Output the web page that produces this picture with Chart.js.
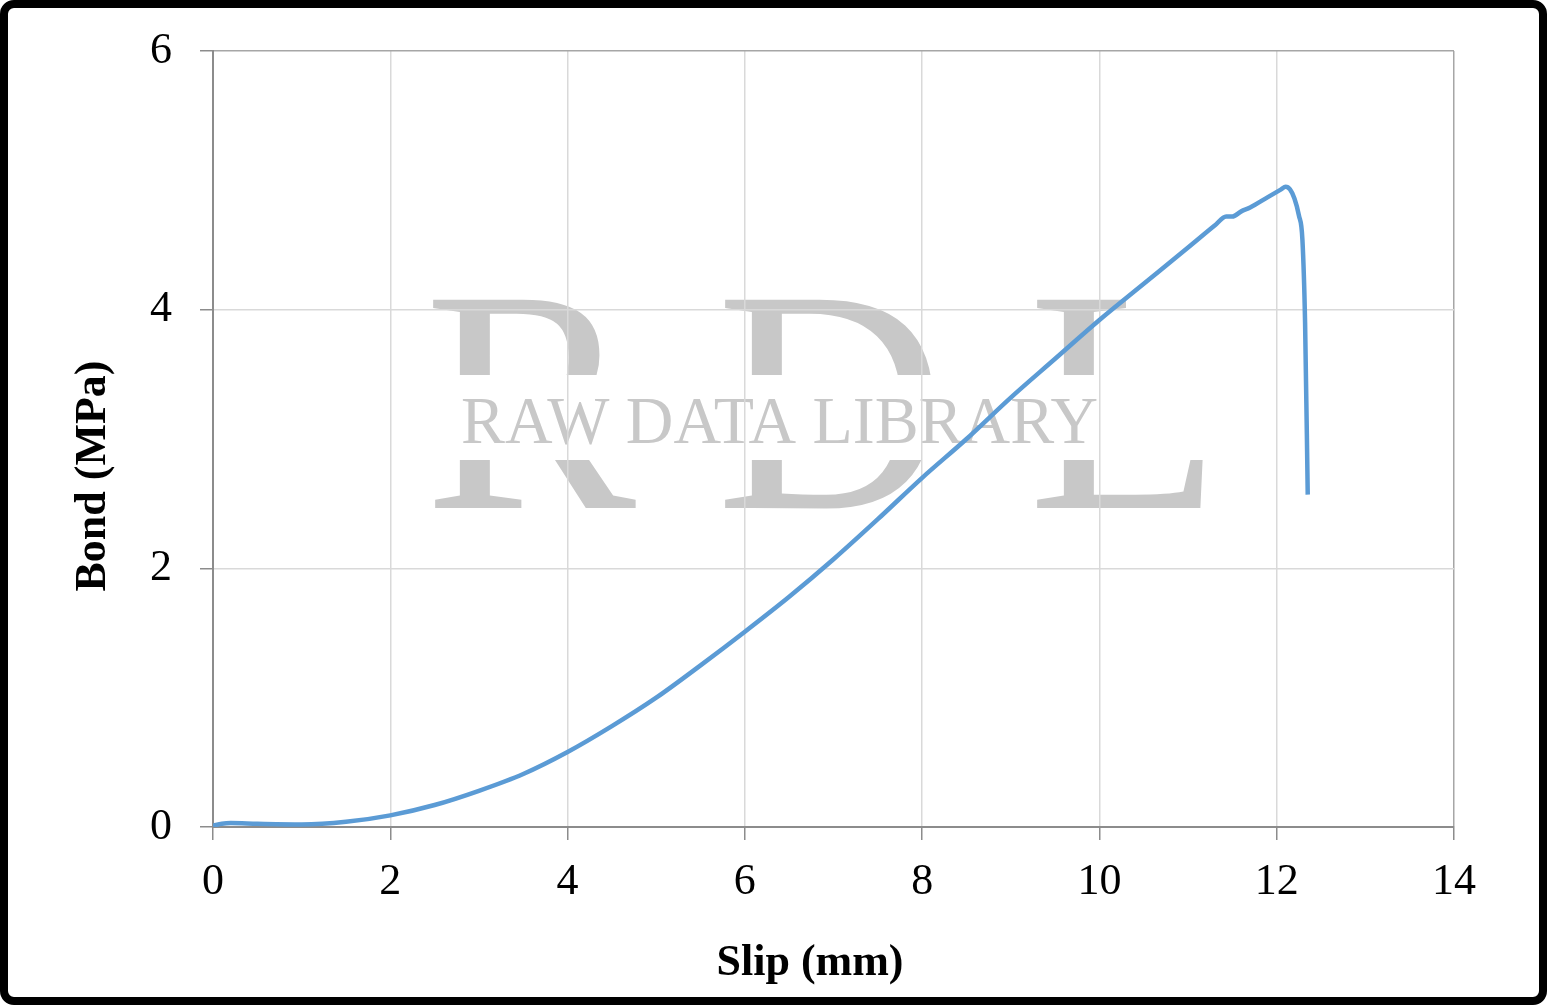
<!DOCTYPE html>
<html>

<head>
    <script src="https://cdnjs.cloudflare.com/ajax/libs/Chart.js/4.4.1/chart.umd.js"></script>
    <title>Bond vs Slip</title>
    <style>
        body { margin: 0; background: #fff; }
        #wrap {
            width: 1547px;
            height: 1005px;
            box-sizing: border-box;
            border: 8px solid #000;
            border-radius: 14px;
            background: #fff;
        }
        canvas { display: block; }
    </style>
    <script>
        const slip = [0, 0.1, 0.2, 0.5, 1.0, 1.5, 2.0, 2.5, 3.0, 3.5, 4.0, 4.5, 5.0, 5.5, 6.0, 6.5, 7.0, 7.5, 8.0, 8.5,
            9.0, 9.5, 10.0, 10.5, 11.0, 11.3, 11.43, 11.5, 11.6, 11.7, 11.9, 12.05, 12.1, 12.15, 12.2, 12.25, 12.29, 12.32, 12.35];
        const bond = [0.01, 0.025, 0.03, 0.025, 0.02, 0.04, 0.09, 0.17, 0.28, 0.41, 0.58, 0.78, 1.00, 1.25, 1.51, 1.78, 2.07, 2.38, 2.70, 3.00,
            3.32, 3.62, 3.92, 4.20, 4.48, 4.65, 4.72, 4.72, 4.76, 4.79, 4.87, 4.93, 4.95, 4.93, 4.86, 4.73, 4.54, 3.9, 2.57];
        const xTicks = [0, 2, 4, 6, 8, 10, 12, 14];
        const yTicks = [0, 2, 4, 6];
        const xTitle = 'Slip (mm)';
        const yTitle = 'Bond (MPa)';

        const serif = '"Liberation Serif", "Times New Roman", serif';

        // watermark sits under the grid
        const watermark = {
            id: 'watermark',
            beforeDraw(chart) {
                const c = chart.ctx;
                c.save();
                c.fillStyle = '#C8C8C8';
                c.textBaseline = 'alphabetic';
                c.textAlign = 'left';
                c.font = '318px ' + serif;
                c.fillText('R', 416, 500);
                c.fillText('D', 708, 500);
                c.fillText('L', 1020, 500);
                c.fillStyle = '#fff';
                c.fillRect(400, 367, 840, 85);
                c.fillStyle = '#C8C8C8';
                c.font = '68px ' + serif;
                c.fillText('RAW DATA LIBRARY', 453, 435, 637);
                c.restore();
            }
        };

        const axisTitles = {
            id: 'axisTitles',
            afterDraw(chart) {
                const c = chart.ctx;
                c.save();
                c.fillStyle = '#000';
                c.font = 'bold 44px ' + serif;
                c.textAlign = 'center';
                c.textBaseline = 'alphabetic';
                c.fillText(xTitle, 802, 967);
                c.translate(97, 468);
                c.rotate(-Math.PI / 2);
                c.fillText(yTitle, 0, 0);
                c.restore();
            }
        };

        window.onload = () => {
            new Chart(document.getElementById('chart').getContext('2d'), {
                type: 'scatter',
                data: {
                    datasets: [{
                        data: slip.map((s, i) => ({ x: s, y: bond[i] })),
                        showLine: true,
                        borderColor: '#5B9BD5',
                        borderWidth: 4.5,
                        pointRadius: 0,
                        cubicInterpolationMode: 'monotone'
                    }]
                },
                options: {
                    responsive: false,
                    animation: false,
                    layout: { padding: { top: 43, right: 85, left: 0, bottom: 0 } },
                    plugins: { legend: { display: false }, tooltip: { enabled: false } },
                    scales: {
                        x: {
                            type: 'linear',
                            min: 0,
                            max: 14,
                            afterFit: (scale) => {
                                scale.height = 170;
                                scale.paddingLeft = 0;
                                scale.paddingRight = 0;
                            },
                            afterBuildTicks: (scale) => { scale.ticks = xTicks.map(v => ({ value: v })); },
                            ticks: { color: '#000', padding: 16, maxRotation: 0, font: { family: serif, size: 44 } },
                            grid: {
                                color: (ctx) => ctx.tick && ctx.tick.value === 14 ? '#A6A6A6' : '#D9D9D9',
                                tickColor: '#8C8C8C',
                                tickLength: 13,
                                lineWidth: 1.5
                            },
                            border: { color: '#8C8C8C', width: 2 }
                        },
                        y: {
                            min: 0,
                            max: 6,
                            afterFit: (scale) => {
                                scale.width = 205;
                                scale.paddingTop = 0;
                                scale.paddingBottom = 0;
                            },
                            afterBuildTicks: (scale) => { scale.ticks = yTicks.map(v => ({ value: v })); },
                            ticks: { color: '#000', padding: 28, font: { family: serif, size: 44 } },
                            grid: {
                                color: (ctx) => ctx.tick && ctx.tick.value === 6 ? '#A6A6A6' : '#D9D9D9',
                                tickColor: '#8C8C8C',
                                tickLength: 13,
                                lineWidth: 1.5
                            },
                            border: { color: '#8C8C8C', width: 2 }
                        }
                    }
                },
                plugins: [watermark, axisTitles]
            });
        };
    </script>
</head>

<body>
    <div id="wrap"><canvas id="chart" width="1531" height="989"></canvas></div>
</body>

</html>
